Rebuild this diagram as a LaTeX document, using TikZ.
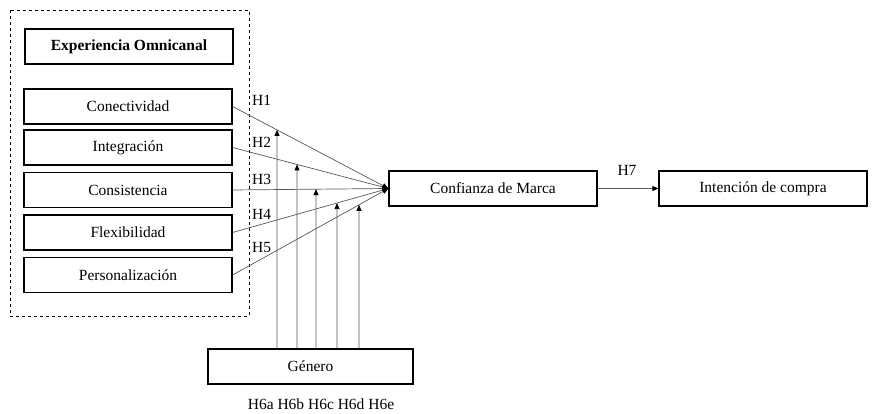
\documentclass[tikz,border=0pt]{standalone}
\usepackage{fontspec}
\setmainfont{Liberation Serif}
\usetikzlibrary{arrows.meta}
\begin{document}
\begin{tikzpicture}[x=1pt,y=-1pt,
  every node/.style={font=\fontsize{15.5}{18}\selectfont},
  box/.style={draw=black,line width=1.2pt,rectangle,minimum width=208pt,minimum height=35pt,inner sep=0pt},
  conn/.style={draw=black!65,line width=0.7pt,-{Triangle[length=6pt,width=5pt,fill=black,color=black]}},
  lbl/.style={inner sep=0pt}]
\useasboundingbox (0,0) rectangle (872,414);
\fill[white] (0,0) rectangle (872,414);
\draw[dashed,line width=0.9pt] (10,10) rectangle (249,316);
\node[box,font=\fontsize{15.5}{18}\selectfont\bfseries] (exp) at (129,46.5) {Experiencia Omnicanal};
\node[box] (con) at (128,106.5) {Conectividad};
\node[box] (int) at (128,147.5) {Integración};
\node[box] (cns) at (128,190) {Consistencia};
\node[box] (flx) at (128,232.5) {Flexibilidad};
\node[box] (per) at (128,275) {Personalización};
\node[box] (conf) at (493,188.5) {Confianza de Marca};
\node[box] (inten) at (763,188.5) {Intención de compra};
\node[box,minimum width=205pt] (gen) at (310.5,366.5) {Género};
\node[lbl,anchor=west] (h1) at (252,100) {H1};
\node[lbl,anchor=west] (h2) at (252,142) {H2};
\node[lbl,anchor=west] (h3) at (252,179) {H3};
\node[lbl,anchor=west] (h4) at (252,214) {H4};
\node[lbl,anchor=west] (h5) at (252,247) {H5};
\node[lbl] (h6) at (321,404) {H6a H6b H6c H6d H6e};
\node[lbl] (h7) at (627,170) {H7};
\draw[conn] (con.east) -- (conf.west);
\draw[conn] (int.east) -- (conf.west);
\draw[conn] (cns.east) -- (conf.west);
\draw[conn] (flx.east) -- (conf.west);
\draw[conn] (per.east) -- (conf.west);
\draw[conn] (conf.east) -- (inten.west);
\coordinate (t1) at (277,0);
\coordinate (t2) at (297,0);
\coordinate (t3) at (316,0);
\coordinate (t4) at (337,0);
\coordinate (t5) at (359,0);
\coordinate (b1) at (t1 |- gen.north);
\coordinate (b2) at (t2 |- gen.north);
\coordinate (b3) at (t3 |- gen.north);
\coordinate (b4) at (t4 |- gen.north);
\coordinate (b5) at (t5 |- gen.north);
\coordinate (m1) at (intersection of con.east--conf.west and t1--b1);
\coordinate (m2) at (intersection of int.east--conf.west and t2--b2);
\coordinate (m3) at (intersection of cns.east--conf.west and t3--b3);
\coordinate (m4) at (intersection of flx.east--conf.west and t4--b4);
\coordinate (m5) at (intersection of per.east--conf.west and t5--b5);
\draw[conn] (b1) -- (m1);
\draw[conn] (b2) -- (m2);
\draw[conn] (b3) -- (m3);
\draw[conn] (b4) -- (m4);
\draw[conn] (b5) -- (m5);
\end{tikzpicture}
\end{document}
